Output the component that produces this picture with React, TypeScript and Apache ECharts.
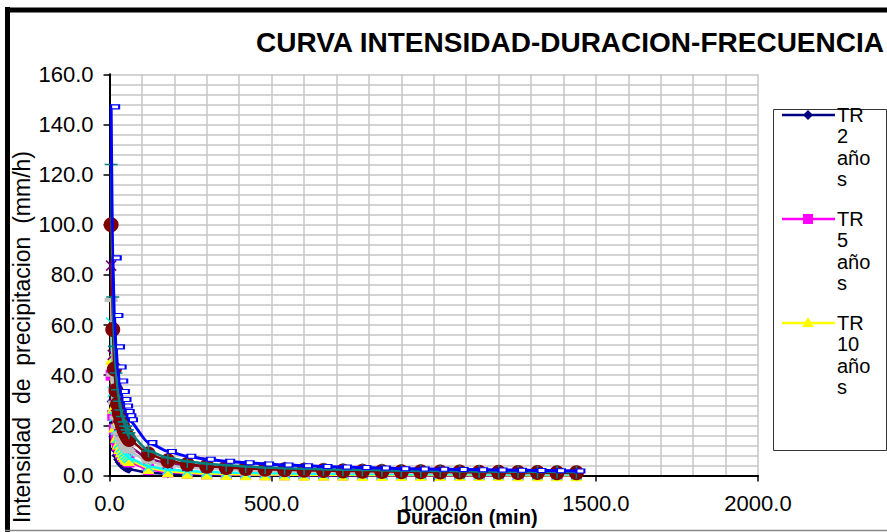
import React, { useEffect, useRef } from "react";
import * as echarts from "echarts";

const FONT = "'Liberation Sans', Arial, sans-serif";

const durations = [5, 10, 15, 20, 25, 30, 35, 40, 45, 50, 55, 60, 120, 180, 240, 300, 360, 420, 480, 540, 600, 660, 720, 780, 840, 900, 960, 1020, 1080, 1140, 1200, 1260, 1320, 1380, 1440];

const tr2 = [29.5, 15.5, 10.5, 8.0, 6.4, 5.3, 4.5, 3.9, 3.4, 3.0, 2.7, 2.45, 1.1, 0.7, 0.5, 0.38, 0.3, 0.25, 0.21, 0.18, 0.16, 0.14, 0.12, 0.11, 0.1, 0.09, 0.085, 0.08, 0.075, 0.07, 0.065, 0.06, 0.055, 0.05, 0.05];
const tr5 = [40, 24, 18.5, 14.5, 12.0, 10.2, 8.9, 7.9, 7.1, 6.4, 5.9, 5.4, 2.4, 1.4, 0.9, 0.65, 0.5, 0.4, 0.33, 0.28, 0.24, 0.21, 0.19, 0.17, 0.15, 0.14, 0.13, 0.12, 0.11, 0.1, 0.095, 0.09, 0.085, 0.08, 0.075];
const tr10 = [46.5, 27, 19.5, 15.5, 12.8, 11.0, 9.7, 8.6, 7.8, 7.1, 6.6, 6.2, 3.0, 1.7, 1.05, 0.75, 0.58, 0.48, 0.41, 0.36, 0.32, 0.29, 0.26, 0.24, 0.22, 0.2, 0.19, 0.18, 0.17, 0.16, 0.15, 0.14, 0.135, 0.13, 0.125];
const tr25 = [61, 33.4, 23.5, 18.3, 15.0, 12.8, 11.2, 10.0, 9.0, 8.2, 7.6, 7.0, 3.6, 2.4, 1.8, 1.45, 1.2, 1.05, 0.92, 0.83, 0.76, 0.7, 0.65, 0.6, 0.57, 0.54, 0.51, 0.48, 0.46, 0.44, 0.42, 0.4, 0.38, 0.37, 0.36];
const tr50 = [83.7, 48.1, 34.8, 27.6, 23.1, 20.0, 17.6, 15.9, 14.4, 13.3, 12.3, 11.5, 6.6, 4.8, 3.8, 3.2, 2.7, 2.4, 2.2, 2.0, 1.8, 1.7, 1.6, 1.5, 1.4, 1.3, 1.25, 1.2, 1.15, 1.1, 1.05, 1.0, 0.96, 0.93, 0.9];
const tr100 = [100, 58.2, 42.5, 33.9, 28.5, 24.7, 21.9, 19.8, 18.0, 16.6, 15.4, 14.4, 8.6, 5.9, 4.5, 3.7, 3.2, 2.8, 2.5, 2.3, 2.1, 1.95, 1.8, 1.7, 1.6, 1.5, 1.45, 1.4, 1.35, 1.3, 1.25, 1.2, 1.15, 1.1, 1.05];
const tr200 = [124, 71.2, 51.5, 40.9, 34.2, 29.6, 26.1, 23.5, 21.4, 19.7, 18.2, 17.0, 9.8, 7.1, 5.6, 4.7, 4.1, 3.6, 3.2, 2.9, 2.7, 2.5, 2.3, 2.2, 2.1, 1.9, 1.8, 1.8, 1.7, 1.6, 1.5, 1.5, 1.4, 1.4, 1.3];
const tr500 = [147, 86.8, 63.8, 51.3, 43.3, 37.7, 33.5, 30.3, 27.7, 25.5, 23.8, 22.2, 13.1, 9.6, 7.7, 6.5, 5.7, 5.1, 4.6, 4.2, 3.9, 3.6, 3.4, 3.2, 3.0, 2.7, 2.6, 2.5, 2.4, 2.3, 2.2, 2.1, 2.0, 1.9, 1.8];
const tr1000 = [70, 40.2, 29.1, 23.1, 19.3, 16.7, 14.8, 13.3, 12.1, 11.1, 10.3, 9.6, 5.5, 4.0, 3.2, 2.6, 2.3, 2.0, 1.8, 1.65, 1.5, 1.4, 1.3, 1.23, 1.16, 1.1, 1.04, 0.99, 0.95, 0.91, 0.88, 0.84, 0.81, 0.78, 0.76];

const seriesNames = ["TR 2 años", "TR 5 años", "TR 10 años", "TR 25 años", "TR 50 años", "TR 100 años", "TR 200 años", "TR 500 años", "TR 1000 años"];
const seriesValues = [tr2, tr5, tr10, tr25, tr50, tr100, tr200, tr500, tr1000];
const legendLabels = ["TR\n2\naño\ns", "TR\n5\naño\ns", "TR\n10\naño\ns"];

const xTickMax = 2000;
const xTickStep = 500;
const yTickMax = 160;
const yTickStep = 20;

const CROSS = "path://M0,0L10,10M10,0L0,10";
const STAR = "path://M0,0L10,10M10,0L0,10M5,0L5,10";
const PLUS = "path://M5,0L5,10M0,5L10,5";

const styles = [
  { color: "#000080", symbol: "diamond", size: 9, stroke: false, z: 2.0 },
  { color: "#FF00FF", symbol: "rect", size: 11, stroke: false, z: 2.01 },
  { color: "#FFFF00", symbol: "triangle", size: 12, stroke: false, z: 2.02 },
  { color: "#00FFFF", symbol: CROSS, size: 10, stroke: true, z: 2.03 },
  { color: "#800080", symbol: STAR, size: 10, stroke: true, z: 2.04 },
  { color: "#800000", symbol: "circle", size: 15, stroke: false, z: 2.06 },
  { color: "#008080", symbol: PLUS, size: 13, stroke: true, z: 2.07 },
  { color: "#0000FF", symbol: "rect", size: [8, 4], stroke: false, dash: true, z: 2.08 },
  { color: "#C0C0C0", symbol: "rect", size: [13, 4], stroke: false, z: 2.05 },
];

export default function App() {
  const ref = useRef<HTMLDivElement>(null);
  useEffect(() => {
    if (!ref.current) return;
    const chart = echarts.init(ref.current, null, { renderer: "svg" });

    const series = seriesValues.map((vals, i) => {
      const st: any = styles[i];
      let itemStyle: any;
      if (st.stroke) itemStyle = { color: st.color, borderColor: st.color, borderWidth: 1.6 };
      else if (st.dash) itemStyle = { color: "#FFFFFF", borderColor: st.color, borderWidth: 1.5 };
      else itemStyle = { color: st.color, borderWidth: 0 };
      return {
        type: "line",
        name: seriesNames[i],
        data: durations.map((d, k) => [d, vals[k]]),
        symbol: st.symbol,
        symbolSize: st.size,
        symbolOffset: st.dash ? [4, 0] : [0, 0],
        showSymbol: true,
        clip: false,
        smooth: 0.2,
        smoothMonotone: "x",
        lineStyle: { color: st.color, width: i === 7 ? 3 : 2.5 },
        itemStyle,
        emphasis: { disabled: true },
        z: st.z,
      };
    });

    const legendEls: any[] = [
      {
        type: "rect",
        shape: { x: 773.5, y: 109.5, width: 113, height: 341 },
        style: { fill: "#FFFFFF", stroke: "#333333", lineWidth: 1 },
      },
    ];
    legendLabels.forEach((lab, i) => {
      const y = 115 + 104 * i;
      const c = styles[i].color;
      legendEls.push({ type: "line", shape: { x1: 782, y1: y, x2: 835, y2: y }, style: { stroke: c, lineWidth: 2.5 } });
      if (i === 0) legendEls.push({ type: "polygon", shape: { points: [[808, y - 5], [813, y], [808, y + 5], [803, y]] }, style: { fill: c } });
      if (i === 1) legendEls.push({ type: "rect", shape: { x: 803, y: y - 5, width: 10, height: 10 }, style: { fill: c } });
      if (i === 2) legendEls.push({ type: "polygon", shape: { points: [[808, y - 6], [814, y + 4], [802, y + 4]] }, style: { fill: c } });
      legendEls.push({
        type: "text",
        x: 837,
        y: y - 11,
        style: { text: lab, fontSize: 20, fontFamily: FONT, fill: "#000", align: "left", verticalAlign: "top", lineHeight: 21.5 },
      });
    });

    const option: any = {
      animation: false,
      backgroundColor: "#FFFFFF",
      grid: { left: 109.5, top: 74.3, right: 129, bottom: 56.5, containLabel: false },
      xAxis: {
        type: "value",
        min: 0,
        max: xTickMax,
        interval: xTickStep,
        axisLine: { show: true, lineStyle: { color: "#000", width: 2 } },
        axisTick: { show: true, length: 6, lineStyle: { color: "#000", width: 1.5 } },
        axisLabel: { formatter: (v: number) => v.toFixed(1), fontSize: 22, color: "#000", margin: 17, fontFamily: FONT },
        splitLine: { show: true, lineStyle: { color: "#C6C6C6", width: 1.5 } },
        minorTick: { show: false, splitNumber: 5 },
        minorSplitLine: { show: true, lineStyle: { color: "#C6C6C6", width: 1.5 } },
      },
      yAxis: {
        type: "value",
        min: 0,
        max: yTickMax,
        interval: yTickStep,
        axisLine: { show: true, lineStyle: { color: "#000", width: 2 } },
        axisTick: { show: true, length: 6, lineStyle: { color: "#000", width: 1.5 } },
        axisLabel: { formatter: (v: number) => v.toFixed(1), fontSize: 22, color: "#000", margin: 16, fontFamily: FONT },
        splitLine: { show: true, lineStyle: { color: "#C6C6C6", width: 1.5 } },
        minorTick: { show: false, splitNumber: 5 },
        minorSplitLine: { show: true, lineStyle: { color: "#C6C6C6", width: 1.5 } },
      },
      series,
      graphic: [
        { type: "line", shape: { x1: 7.5, y1: 7, x2: 7.5, y2: 532 }, style: { stroke: "#000", lineWidth: 5 } },
        { type: "line", shape: { x1: 5, y1: 10, x2: 887, y2: 10 }, style: { stroke: "#000", lineWidth: 5 } },
        { type: "line", shape: { x1: 5, y1: 530.5, x2: 887, y2: 530.5 }, style: { stroke: "#888", lineWidth: 1.5 } },
        {
          type: "text",
          x: 570,
          y: 42,
          style: { text: "CURVA INTENSIDAD-DURACION-FRECUENCIA", fontSize: 28, fontWeight: "bold", fontFamily: FONT, fill: "#000", align: "center", verticalAlign: "middle" },
        },
        {
          type: "text",
          x: 467,
          y: 517,
          z: 100,
          style: { text: "Duracion (min)", fontSize: 20, fontWeight: "bold", fontFamily: FONT, fill: "#000", align: "center", verticalAlign: "middle" },
        },
        {
          type: "text",
          x: 22,
          y: 337,
          rotation: Math.PI / 2,
          style: { text: "Intensidad  de  precipitacion  (mm/h)", fontSize: 23, fontFamily: FONT, fill: "#000", align: "center", verticalAlign: "middle" },
        },
        ...legendEls,
      ],
    };
    chart.setOption(option);
    return () => chart.dispose();
  }, []);
  return <div ref={ref} style={{ position: "absolute", left: 0, top: 0, width: 887, height: 532 }} />;
}
